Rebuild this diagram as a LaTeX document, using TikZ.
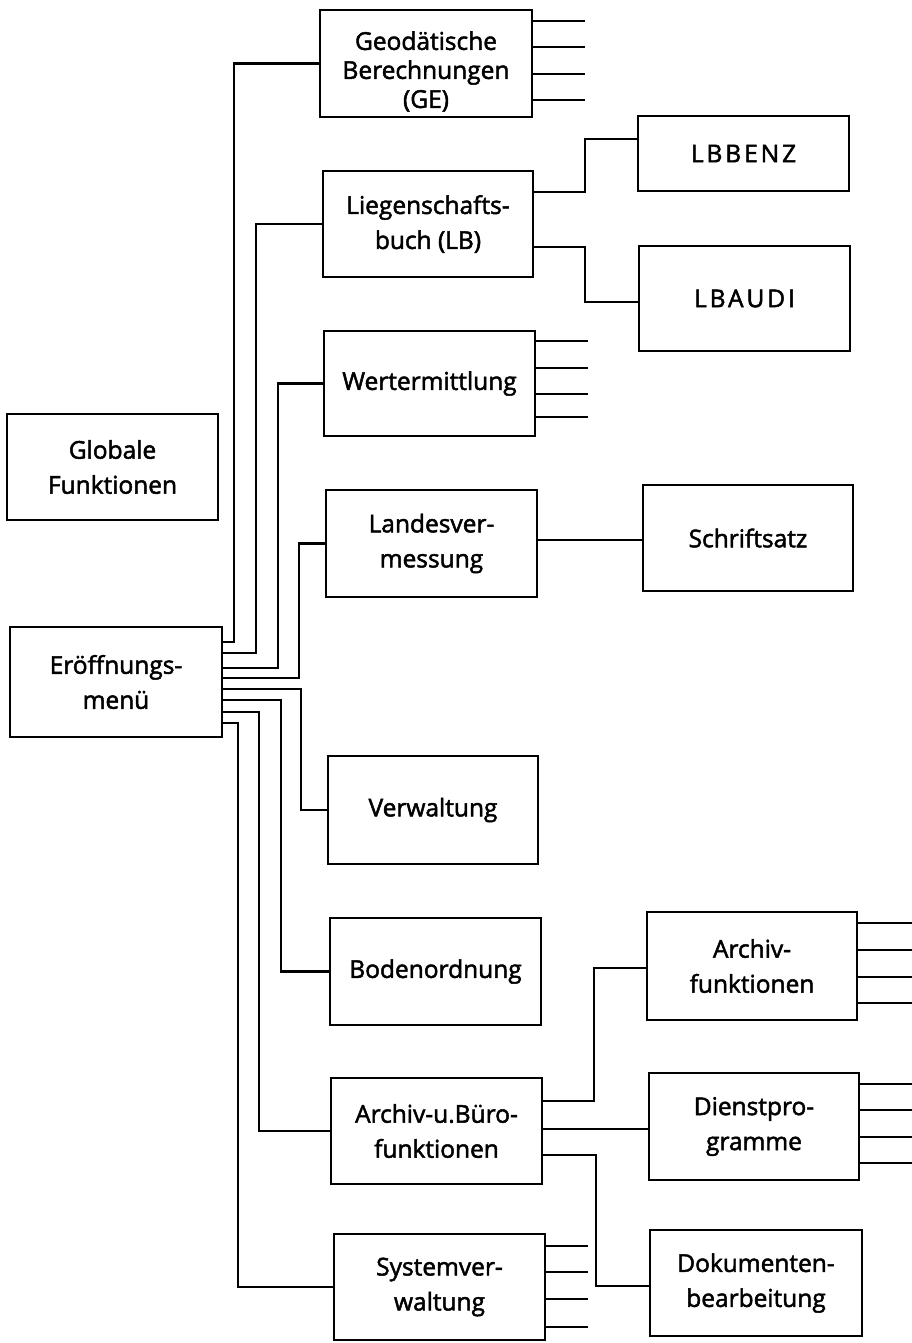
\documentclass[tikz,border=0pt]{standalone}
\usepackage{fontspec}
\setmainfont[FakeBold=2]{Open Sans}
\newfontfamily\spacedfont[LetterSpace=12,FakeBold=2]{Open Sans}
\begin{document}
\begin{tikzpicture}[x=1pt,y=-1pt,
  box/.style={draw, line width=2.2pt, inner sep=0pt, align=center,
    font=\fontsize{24.5}{35}\selectfont},
  sz/.style 2 args={minimum width=#1pt, minimum height=#2pt},
  wire/.style={line width=2.2pt}]
\useasboundingbox[fill=white] (0,0) rectangle (912,1343);

% boxes
\node[box, sz={212}{107},
  label={[yshift=-8pt, align=center, font=\fontsize{24.5}{29}\selectfont]center:{Geodätische\\Berechnungen\\(GE)}}]
  (ge) at (426,63.5) {};
\node[box, sz={210}{106}] (lb) at (428,224) {Liegenschafts-\\buch (LB)};
\node[box, sz={211}{75}, font=\fontsize{24.5}{35}\spacedfont] (lbbenz) at (743.5,153.5) {LBBENZ};
\node[box, sz={211}{105}, font=\fontsize{24.5}{35}\spacedfont] (lbaudi) at (744.5,298.5) {LBAUDI};
\node[box, sz={211}{105}] (wert) at (429.5,383.5) {Wertermittlung};
\node[box, sz={211}{106}] (glob) at (112.5,467) {Globale\\Funktionen};
\node[box, sz={211}{107}] (landes) at (431.5,543.5) {Landesver-\\messung};
\node[box, sz={210}{106}] (schrift) at (748,538) {Schriftsatz};
\node[box, sz={212}{110}] (eroeff) at (116,682) {Eröffnungs-\\menü};
\node[box, sz={210}{108}] (verw) at (433,810) {Verwaltung};
\node[box, sz={211}{107}] (boden) at (435.5,971.5) {Bodenordnung};
\node[box, sz={211}{106}] (aub) at (436.5,1131) {Archiv-u.Büro-\\funktionen};
\node[box, sz={210}{108}] (archf) at (752,966) {Archiv-\\funktionen};
\node[box, sz={210}{107}] (dienst) at (754,1126.5) {Dienstpro-\\gramme};
\node[box, sz={212}{106}] (doku) at (756,1283) {Dokumenten-\\bearbeitung};
\node[box, sz={211}{106}] (system) at (439.5,1287) {Systemver-\\waltung};

% main menu bus
\draw[wire] (eroeff.east |- 0,642) -| (234,0 |- ge.west) -- (ge.west);
\draw[wire] (eroeff.east |- 0,653) -| (256,0 |- lb.west) -- (lb.west);
\draw[wire] (eroeff.east |- 0,668) -| (278,0 |- wert.west) -- (wert.west);
\draw[wire] (eroeff.east |- 0,678) -| (299,0 |- landes.west) -- (landes.west);
\draw[wire] (eroeff.east |- 0,689) -| (301,0 |- verw.west) -- (verw.west);
\draw[wire] (eroeff.east |- 0,700) -| (281,0 |- boden.west) -- (boden.west);
\draw[wire] (eroeff.east |- 0,712) -| (259,0 |- aub.west) -- (aub.west);
\draw[wire] (eroeff.east |- 0,723) -| (238,0 |- system.west) -- (system.west);

% Liegenschaftsbuch branches
\draw[wire] (lb.east |- 0,192) -| (585,139) -- (lbbenz.west |- 0,139);
\draw[wire] (lb.east |- 0,247) -| (585,302) -- (lbaudi.west |- 0,302);

% Landesvermessung
\draw[wire] (landes.east |- 0,540) -- (schrift.west |- 0,540);

% Archiv- u. Bürofunktionen branches
\draw[wire] (aub.east |- 0,1101) -| (594,968) -- (archf.west |- 0,968);
\draw[wire] (aub.east |- 0,1129) -- (dienst.west |- 0,1129);
\draw[wire] (aub.east |- 0,1155) -| (596,1286) -- (doku.west |- 0,1286);

% open stubs
\foreach \y in {21,47,74,100} \draw[wire] (ge.east |- 0,\y) -- ++(52,0);
\foreach \y in {341,368,394,417} \draw[wire] (wert.east |- 0,\y) -- ++(52,0);
\foreach \y in {923,950,977,1003} \draw[wire] (archf.east |- 0,\y) -- (912,\y);
\foreach \y in {1084,1110,1137,1163} \draw[wire] (dienst.east |- 0,\y) -- (912,\y);
\foreach \y in {1246,1272,1299,1327} \draw[wire] (system.east |- 0,\y) -- ++(42,0);
\end{tikzpicture}
\end{document}
